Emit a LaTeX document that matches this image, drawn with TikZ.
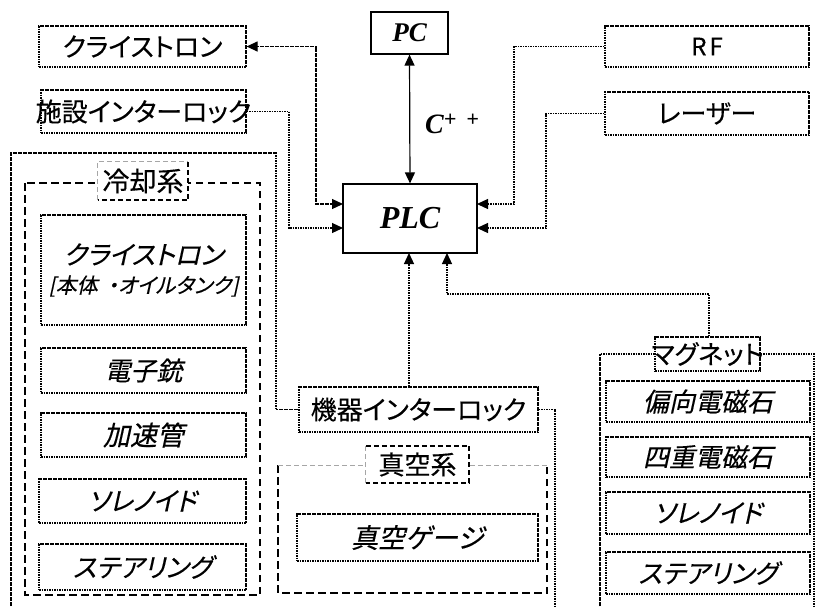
\documentclass[tikz,border=0pt]{standalone}
\usepackage{fontspec}
\setmainfont{Liberation Serif}
\newfontfamily\jp[RawFeature=+palt,FakeBold=0.3]{Noto Sans CJK JP}
\newfontfamily\jpit[RawFeature=+palt,FakeSlant=0.22,FakeBold=0.3]{Noto Sans CJK JP}
\usetikzlibrary{arrows.meta,calc}
\newcommand\myfs[1]{\fontsize{#1pt}{#1pt}\selectfont}
\begin{document}
\begin{tikzpicture}[x=1pt,y=-1pt,
  dl/.style={line width=1.2pt,dash pattern=on 1.8pt off 0.7pt},
  box/.style={draw,dl,inner sep=0pt,fill=white},
  solidbox/.style={draw,line width=1.2pt,inner sep=0pt,fill=white},
  tipend/.style={-{Triangle[length=11pt,width=10pt]}},
  tipboth/.style={{Triangle[length=11pt,width=10pt]}-{Triangle[length=11pt,width=10pt]}},
  thickdash/.style={line width=2.6pt,dash pattern=on 7.5pt off 4.5pt},
  thindash/.style={line width=0.7pt,gray!70,dash pattern=on 5pt off 3pt}]
\useasboundingbox (0,0) rectangle (817,606);

% ---- group frames ----
\draw[thickdash] (25,183) rectangle (260,595);
\draw[thickdash] (278,465) -- (278,593) -- (547,593) -- (547,465);
\draw[thindash] (278,465) -- (547,465);

% ---- nodes ----
\node[box,minimum width=207,minimum height=41] (kly1) at (142.5,46.5) {\jp\myfs{26}クライストロン};
\node[box,minimum width=205,minimum height=43] (shisetsu) at (143.5,111.5) {};
\node at (shisetsu) {\jp\myfs{26}施設インターロック};
\node[solidbox,minimum width=77,minimum height=42] (pc) at (409.5,33) {\myfs{27}\bfseries\itshape PC};
\node[solidbox,minimum width=134,minimum height=69] (plc) at (410,218.5) {\myfs{32}\bfseries\itshape PLC};
\node[box,minimum width=204,minimum height=41] (rf) at (707,46.5) {\jp\myfs{24}R\hspace{3pt}F};
\node[box,minimum width=204,minimum height=43] (laser) at (707,113.5) {\jp\myfs{26}レーザー};
\node (cpp) at (452,124) {\myfs{28}\bfseries\itshape C\raisebox{7pt}{\myfs{22}+\hspace{10pt}+}};

% PLC ports
\coordinate (pL1) at (343,204);
\coordinate (pL2) at (343,228);
\coordinate (pR1) at (477,204);
\coordinate (pR2) at (477,228);
\coordinate (pB1) at (409,253);
\coordinate (pB2) at (447,253);

% cooling
\node[fill=white,inner sep=0pt,minimum width=90,minimum height=38] (reikyaku) at (143,181) {\jp\myfs{27}冷却系};
\draw[thindash] (reikyaku.south west) -- (reikyaku.north west) -- (reikyaku.north east);
\draw[thickdash,line width=2.2pt,dash pattern=on 5pt off 3pt] (reikyaku.north east) -- (reikyaku.south east) -- (reikyaku.south west);
\node[box,minimum width=205,minimum height=110,align=center] (kly2) at (143.5,270)
  {\jpit\myfs{26}クライストロン\\[9pt]\jpit\myfs{21}{[}本体\hspace{5pt} ・オイルタンク{]}};
\node[box,minimum width=205,minimum height=45] (denshi) at (143.5,370.5) {\jpit\myfs{26}電子銃};
\node[box,minimum width=205,minimum height=44] (kasoku) at (143.5,435) {\jpit\myfs{27}加速管};
\node[box,minimum width=207,minimum height=44] (sole1) at (142.5,501) {\jpit\myfs{26}ソレノイド};
\node[box,minimum width=207,minimum height=46] (steer1) at (142.5,567) {\jpit\myfs{26}ステアリング};

% machine interlock and vacuum
\node[box,minimum width=239,minimum height=45] (kiki) at (418.5,409.5) {};
\node at (kiki) {\jp\myfs{26}機器インターロック};
\node[fill=white,inner sep=0pt,minimum width=103,minimum height=37] (shinkuukei) at (417.5,464.5) {\jp\myfs{26}真空系};
\draw[thindash] (shinkuukei.south west) -- (shinkuukei.north west);
\draw[thickdash,line width=2.2pt,dash pattern=on 5pt off 3pt] (shinkuukei.north west) -- (shinkuukei.north east) -- (shinkuukei.south east) -- (shinkuukei.south west);
\node[box,minimum width=241,minimum height=47] (gauge) at (417.5,537.5) {\jpit\myfs{27}真空ゲージ};

% magnets
\node[box,minimum width=105,minimum height=34] (magnet) at (707.5,354) {};
\node[box,minimum width=204,minimum height=41] (henkou) at (708,401.5) {\jpit\myfs{26}偏向電磁石};
\node[box,minimum width=204,minimum height=40] (shijuu) at (708,457) {\jpit\myfs{26}四重電磁石};
\node[box,minimum width=204,minimum height=42] (sole2) at (708,513) {\jpit\myfs{26}ソレノイド};
\node[box,minimum width=204,minimum height=42] (steer2) at (708,573) {\jpit\myfs{26}ステアリング};

% ---- connectors ----
\coordinate (coolBL) at (11,606);
\coordinate (kikiBus) at (555,606);
\coordinate (magBL) at (600,606);
\coordinate (magBR) at (814,606);

\draw[dl,tipboth] (kly1.east) -| (316,204) -- (pL1);
\draw[dl,tipend] (shisetsu.east) -| (289,228) -- (pL2);
\draw[dl,tipend] (rf.west) -| (514,204) -- (pR1);
\draw[dl,tipend] (laser.west) -| (546,228) -- (pR2);
\draw[line width=1.2pt,tipboth] (pc.south) -- (plc.north);
\draw[dl,tipend] (kiki.north -| pB1) -- (pB1);
\draw[dl,tipend] (magnet.north -| 709,0) -- (709,294) -- (447,294) -- (pB2);
\draw[dl] (coolBL) -- (11,153) -- (276,153) -- (276,409.5) -- (kiki.west);
\draw[dl] (kiki.east) -| (kikiBus);
\draw[dl] (magBL) |- (magnet.west);
\draw[dl] (magnet.east) -| (magBR);
\node at (magnet) {\jp\myfs{26}マグネット};
\end{tikzpicture}
\end{document}
